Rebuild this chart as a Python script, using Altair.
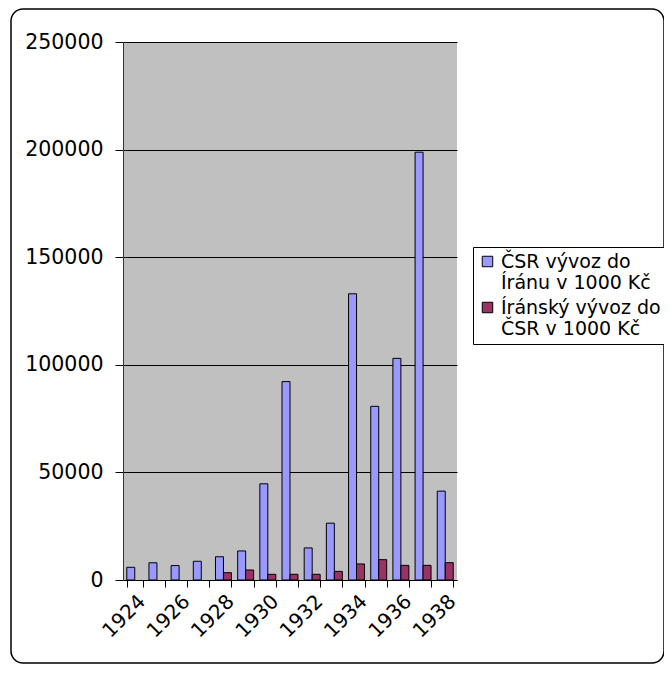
import altair as alt
import pandas as pd

years = list(range(1924, 1939))
csr_export = [5900, 8000, 6700, 8700, 10800, 13500, 44700, 92200, 14900, 26400,
              133000, 80700, 103000, 198800, 41300]
iran_export = [None, None, None, None, 3400, 4650, 2650, 2650, 2650, 4000,
               7450, 9450, 6800, 6800, 8050]
series_names = ["ČSR vývoz do Íránu v 1000 Kč", "Íránský vývoz do ČSR v 1000 Kč"]
legend_lines = [["ČSR vývoz do", "Íránu v 1000 Kč"], ["Íránský vývoz do", "ČSR v 1000 Kč"]]
colors = ["#9999FF", "#993366"]

rows = []
for y, a, b in zip(years, csr_export, iran_export):
    rows.append({"year": y, "series": series_names[0], "value": a})
    if b is not None:
        rows.append({"year": y, "series": series_names[1], "value": b})
df = pd.DataFrame(rows)

label_expr = (f"datum.label == '{series_names[0]}' ? "
              f"['{legend_lines[0][0]}', '{legend_lines[0][1]}'] : "
              f"['{legend_lines[1][0]}', '{legend_lines[1][1]}']")

bars = alt.Chart(df).mark_bar(stroke="black", strokeWidth=1).encode(
    x=alt.X("year:O", title=None,
            scale=alt.Scale(paddingInner=0.28, paddingOuter=0.17),
            axis=alt.Axis(labelAngle=-45, tickBand="extent",
                          labelExpr="datum.value % 2 == 0 ? datum.label : ''",
                          domainColor="black", tickColor="black", tickSize=7,
                          labelFontSize=20, labelColor="black", labelPadding=4)),
    xOffset=alt.XOffset("series:N", sort=series_names,
                        scale=alt.Scale(paddingInner=0, paddingOuter=0)),
    y=alt.Y("value:Q", title=None,
            scale=alt.Scale(domain=[0, 250000]),
            axis=alt.Axis(values=[0, 50000, 100000, 150000, 200000, 250000],
                          format="d", grid=True, gridColor="black", gridWidth=1,
                          domainColor="#333333", tickColor="black", tickSize=8,
                          labelFontSize=20.5, labelColor="black", labelPadding=12)),
    color=alt.Color("series:N", sort=series_names, title=None,
                    scale=alt.Scale(domain=series_names, range=colors),
                    legend=alt.Legend(orient="none", legendX=350, legendY=205,
                                      labelExpr=label_expr,
                                      symbolType="square", symbolSize=110,
                                      symbolStrokeColor="black", symbolStrokeWidth=1,
                                      labelFontSize=19, labelColor="black",
                                      labelLimit=400, strokeColor="black",
                                      padding=5, rowPadding=5, fillColor="white")),
)

frame = alt.Chart(pd.DataFrame({"a": [0]})).mark_rect(
    fill=None, stroke="black", strokeWidth=1.5, cornerRadius=12
).encode(x=alt.value(-112), x2=alt.value(541), y=alt.value(-33), y2=alt.value(621))

chart = alt.layer(frame, bars).properties(
    width=334, height=538,
    autosize=alt.AutoSizeParams(type="none"),
    padding={"left": 115, "top": 34, "right": 207, "bottom": 84},
).configure(font="DejaVu Sans").configure_view(
    fill="#C0C0C0", stroke=None
)

chart.save("out.html", embed_options={"renderer": "svg", "actions": False})
